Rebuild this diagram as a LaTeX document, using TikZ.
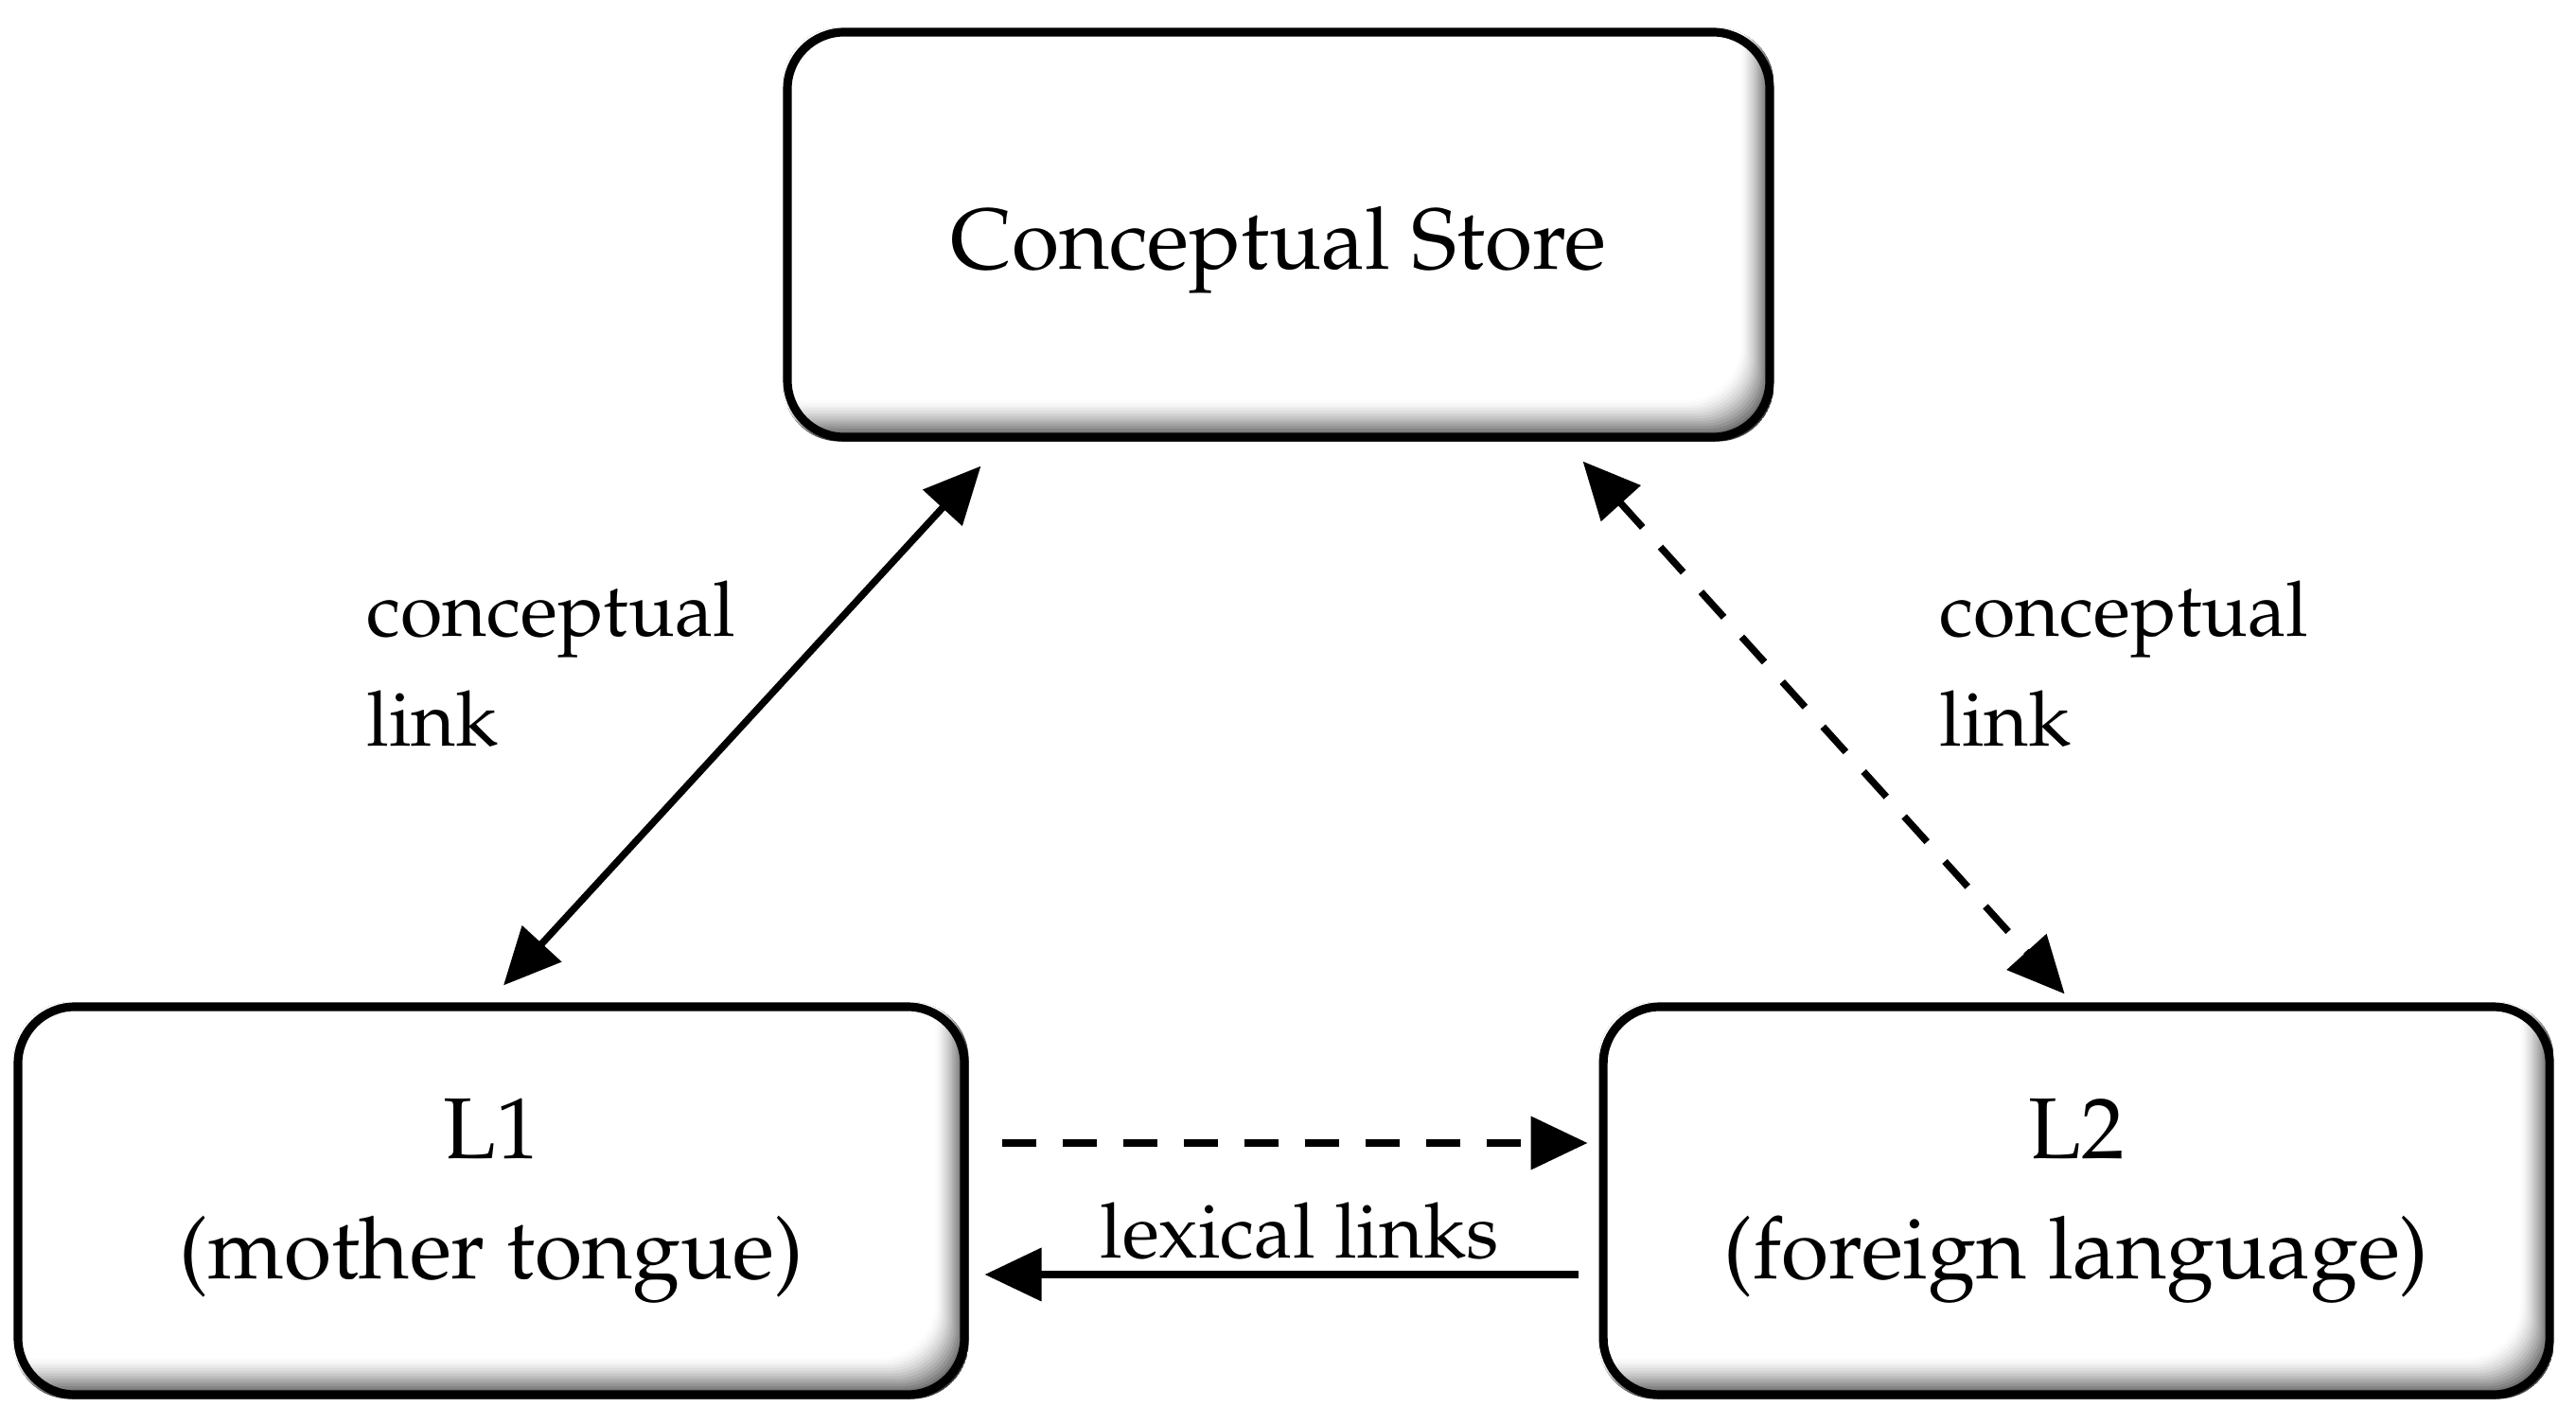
\documentclass[tikz,border=0pt]{standalone}
\usepackage[T1]{fontenc}
\usepackage{mathpazo}
\usepackage{tikz}
\usetikzlibrary{arrows.meta,positioning,backgrounds}
\usepackage{xcolor}
\definecolor{lkblack}{RGB}{0,0,0}
\definecolor{lkshade}{RGB}{45,45,45}
\tikzstyle{langbox} = [rectangle, rounded corners=0.6cm, minimum width=10cm, minimum height=4.1cm, text centered, align=center, draw=lkblack, line width=2.6pt, font=\fontsize{26}{36}\selectfont]
\tikzstyle{link} = [line width=2.1pt, color=lkblack, >={Triangle[length=0.6cm,width=0.55cm]}]
\tikzstyle{dashedlink} = [link, dash pattern=on 0.36cm off 0.28cm]
\tikzstyle{linklabel} = [align=left, anchor=west, inner sep=0pt]

% inner shadow along the bottom and right side of a box
\newcommand{\bevelshade}[1]{%
  \begin{scope}
    \clip[rounded corners=0.6cm] (#1.south west) rectangle (#1.north east);
    \foreach \i [evaluate=\i as \amt using 90*(1-\i/16)^1.5] in {0,...,16}
      \fill[lkshade!\amt!white, rounded corners=0.6cm]
        ([xshift=-1cm,yshift=1cm]#1.north west) rectangle ([xshift=-\i*0.022cm,yshift=\i*0.027cm]#1.south east);
  \end{scope}}

\begin{document}
\begin{tikzpicture}[font=\fontsize{23}{33}\selectfont]
\useasboundingbox (0,0) rectangle (27.22,14.86);
% Nodes
\node (l1) [langbox] at (5.19,2.17) {L1\\(mother tongue)};
\node (l2) [langbox, right=6.66cm of l1] {L2\\(foreign language)};
\node (store) [langbox, minimum width=10.38cm, minimum height=4.28cm, text height=28pt] at (13.51,12.38) {Conceptual Store};

\begin{pgfonlayer}{background}
\bevelshade{l1}
\bevelshade{l2}
\bevelshade{store}
\end{pgfonlayer}

% Labels
\node (lnkleft) [linklabel] at (3.87,7.85) {conceptual\\link};
\node (lnkright) [linklabel] at (20.49,7.85) {conceptual\\link};

% Arrows
\draw[link, <->] ([xshift=0.13cm,yshift=0.18cm]l1.north) -- ([xshift=2.09cm,yshift=-0.26cm]store.south west);
\draw[dashedlink, <->] ([xshift=-2.02cm,yshift=-0.21cm]store.south east) -- ([xshift=-0.125cm,yshift=0.09cm]l2.north);
\draw[dashedlink, ->] ([xshift=0.35cm,yshift=0.61cm]l1.east) -- ([xshift=-0.12cm,yshift=0.61cm]l2.west);
\draw[link, ->] ([xshift=-0.22cm,yshift=-0.78cm]l2.west) -- node[above, pos=0.47] {lexical links} ([xshift=0.17cm,yshift=-0.78cm]l1.east);
\end{tikzpicture}
\end{document}
